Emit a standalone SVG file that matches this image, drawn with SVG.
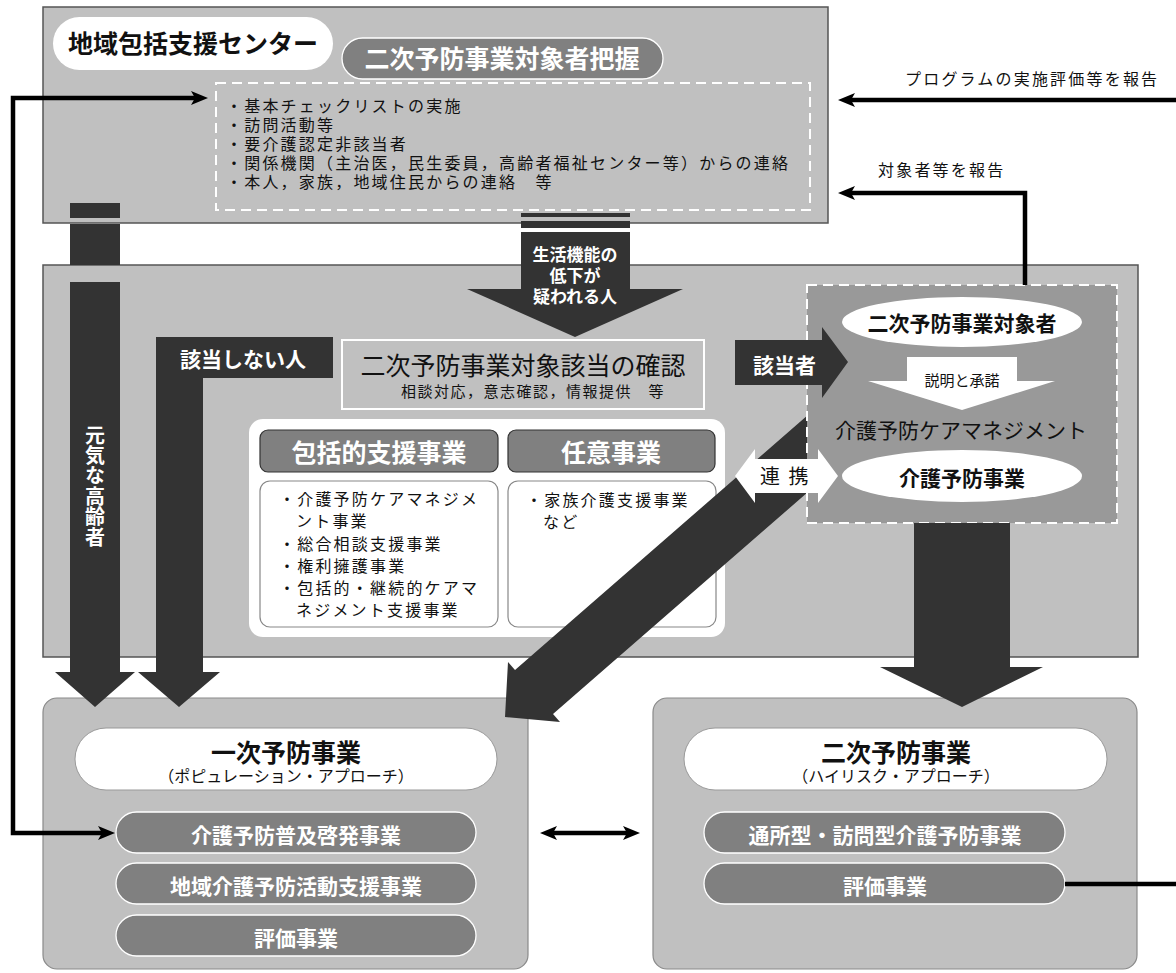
<svg xmlns="http://www.w3.org/2000/svg" width="1176" height="973" viewBox="0 0 1176 973">
<style>
text{font-family:"Noto Sans CJK JP","Noto Sans",sans-serif;fill:#111}
.b{font-weight:700}
.w{fill:#fff}
.m{text-anchor:middle}
.box{fill:#c0c0c0;stroke:#555;stroke-width:1.5}
.rbox{fill:#c0c0c0;stroke:#8a8a8a;stroke-width:1.2}
.dark{fill:#333}
.pill{fill:#808080;stroke:#fff;stroke-width:1.3}
.wpill{fill:#fff;stroke:#999;stroke-width:1}
.hdr{fill:#808080;stroke:#333;stroke-width:1.2}
.cnt{fill:#fff;stroke:#888;stroke-width:1.2}
.dash{stroke:#fff;stroke-width:2;stroke-dasharray:10 6}
.s16{font-size:16px;letter-spacing:2.2px}
.conn{fill:none;stroke:#000;stroke-width:4.5}
.vert{writing-mode:vertical-rl;text-orientation:upright}
</style>
<defs>
<marker id="ah" markerUnits="userSpaceOnUse" markerWidth="20" markerHeight="16" viewBox="0 -8 18 16" refX="7" refY="0" orient="auto-start-reverse" overflow="visible">
<path d="M0,-7 L17,0 L0,7 L4,0 z" fill="#000"/>
</marker>
</defs>

<g id="frames">
<rect id="top-box" class="box" x="43" y="7" width="785" height="216"/>
<rect id="mid-box" class="box" x="43" y="265" width="1095" height="392"/>
<rect id="primary-box" class="rbox" x="43" y="698" width="485" height="271" rx="14"/>
<rect id="secondary-box" class="rbox" x="653" y="698" width="484" height="271" rx="14"/>
</g>

<g id="center">
<rect x="53" y="17" width="280" height="53" rx="26.5" fill="#fff"/>
<text class="b m" x="193" y="53" font-size="25">地域包括支援センター</text>
</g>

<g id="grasp">
<rect class="pill" x="342" y="38" width="321" height="41" rx="20.5"/>
<text class="b m w" x="502" y="68" font-size="25">二次予防事業対象者把握</text>
<rect class="dash" fill="none" x="216" y="83" width="594" height="127"/>
<text class="s16" x="226" y="112">・基本チェックリストの実施</text>
<text class="s16" x="226" y="131">・訪問活動等</text>
<text class="s16" x="226" y="150">・要介護認定非該当者</text>
<text class="s16" x="226" y="169">・関係機関（主治医，民生委員，高齢者福祉センター等）からの連絡</text>
<text class="s16" x="226" y="188">・本人，家族，地域住民からの連絡　等</text>
</g>

<g id="confirm">
<rect x="342" y="340" width="362" height="69" fill="none" stroke="#fff" stroke-width="2"/>
<text class="m" x="523" y="375" font-size="25">二次予防事業対象該当の確認</text>
<text class="m" x="533" y="397" font-size="15" letter-spacing="1.5">相談対応，意志確認，情報提供　等</text>
</g>

<g id="services">
<rect x="249" y="419" width="476" height="218" rx="14" fill="#fff"/>
<rect class="hdr" x="260" y="430" width="238" height="42" rx="8"/>
<text class="b m w" x="379" y="462" font-size="25">包括的支援事業</text>
<rect class="hdr" x="508" y="430" width="207" height="42" rx="8"/>
<text class="b m w" x="611" y="462" font-size="25">任意事業</text>
<rect class="cnt" x="260" y="481" width="238" height="146" rx="10"/>
<rect class="cnt" x="508" y="481" width="208" height="146" rx="10"/>
<text class="s16" x="279" y="505" letter-spacing="1.8">・介護予防ケアマネジメ</text>
<text class="s16" x="296" y="527" letter-spacing="1.8">ント事業</text>
<text class="s16" x="279" y="550" letter-spacing="1.8">・総合相談支援事業</text>
<text class="s16" x="279" y="572" letter-spacing="1.8">・権利擁護事業</text>
<text class="s16" x="279" y="594" letter-spacing="1.8">・包括的・継続的ケアマ</text>
<text class="s16" x="296" y="616" letter-spacing="1.8">ネジメント支援事業</text>
<text class="s16" x="526" y="506" letter-spacing="1.8">・家族介護支援事業</text>
<text class="s16" x="543" y="528" letter-spacing="1.8">など</text>
</g>

<g id="diag-arrow">
<polygon class="dark" points="505,717 560,722 553,714 870,438 832,394 515,670 508,662"/>
</g>

<g id="care-mgmt">
<rect class="dash" fill="#999" x="807" y="285" width="310" height="238"/>
<ellipse cx="962" cy="322" rx="120" ry="25" fill="#fff"/>
<text class="b m" x="962" y="331" font-size="21">二次予防事業対象者</text>
<polygon fill="#fff" points="907,357 1017,357 1017,381 1055,381 962,410 868,381 907,381"/>
<text class="m" x="962" y="386" font-size="15">説明と承諾</text>
<text class="m" x="961" y="438" font-size="21">介護予防ケアマネジメント</text>
<ellipse cx="962" cy="476" rx="120" ry="26" fill="#fff"/>
<text class="b m" x="962" y="486" font-size="21">介護予防事業</text>
</g>

<g id="applicable-arrow">
<polygon class="dark" points="735,340 822,340 822,327 848,362 822,398 822,385 735,385"/>
<text class="b w" x="753" y="373" font-size="21">該当者</text>
</g>

<g id="cooperation">
<polygon fill="#fff" points="735,476 755,449 755,459 818,459 818,449 838,476 818,503 818,493 755,493 755,503"/>
<text x="760" y="484" font-size="20" letter-spacing="2">連 携</text>
</g>

<g id="down-arrows">
<rect class="dark" x="70" y="203" width="50" height="15"/>
<rect class="dark" x="70" y="224" width="50" height="41"/>
<polygon class="dark" points="70,282 120,282 120,672 135,672 95,707 55,672 70,672"/>
<text class="b w vert" x="95" y="425" font-size="20" letter-spacing="0.4">元気な高齢者</text>
<polygon class="dark" points="156,337 333,337 333,378 203,378 203,672 220,672 179,707 138,672 156,672"/>
<text class="b w" x="180" y="367" font-size="21">該当しない人</text>
<rect class="dark" x="521" y="213" width="109" height="4"/>
<rect class="dark" x="521" y="221" width="109" height="7"/>
<polygon class="dark" points="521,232 630,232 630,289 683,289 575,337 467,289 521,289"/>
<text class="b m w" x="575" y="261" font-size="17">生活機能の</text>
<text class="b m w" x="575" y="282" font-size="17">低下が</text>
<text class="b m w" x="575" y="303" font-size="17">疑われる人</text>
<polygon class="dark" points="914,523 1010,523 1010,667 1043,667 962,707 880,667 914,667"/>
</g>

<g id="primary">
<rect class="wpill" x="75" y="728" width="422" height="62" rx="31"/>
<text class="b m" x="286" y="762" font-size="25">一次予防事業</text>
<text class="m" x="286" y="782" font-size="16">（ポピュレーション・アプローチ）</text>
<rect class="pill" x="116" y="812" width="360" height="41" rx="20.5"/>
<text class="b m w" x="296" y="843" font-size="21">介護予防普及啓発事業</text>
<rect class="pill" x="116" y="863" width="360" height="41" rx="20.5"/>
<text class="b m w" x="296" y="894" font-size="21">地域介護予防活動支援事業</text>
<rect class="pill" x="116" y="915" width="360" height="41" rx="20.5"/>
<text class="b m w" x="296" y="946" font-size="21">評価事業</text>
</g>

<g id="secondary">
<rect class="wpill" x="684" y="728" width="423" height="62" rx="31"/>
<text class="b m" x="896" y="762" font-size="25">二次予防事業</text>
<text class="m" x="896" y="782" font-size="16">（ハイリスク・アプローチ）</text>
<rect class="pill" x="704" y="812" width="361" height="41" rx="20.5"/>
<text class="b m w" x="885" y="843" font-size="21">通所型・訪問型介護予防事業</text>
<rect class="pill" x="704" y="863" width="361" height="41" rx="20.5"/>
<text class="b m w" x="885" y="894" font-size="21">評価事業</text>
</g>

<g id="connectors">
<path class="conn" d="M1176,100 H848" marker-end="url(#ah)"/>
<text x="905" y="85" class="s16" letter-spacing="2">プログラムの実施評価等を報告</text>
<path class="conn" d="M1025,285 V193 H848" marker-end="url(#ah)"/>
<text x="878" y="176" class="s16" letter-spacing="2">対象者等を報告</text>
<path class="conn" d="M198,98 H13 V833 H105" marker-start="url(#ah)" marker-end="url(#ah)"/>
<path class="conn" d="M550,833 H630" marker-start="url(#ah)" marker-end="url(#ah)"/>
<path class="conn" d="M1065,884 H1176"/>
</g>
</svg>
